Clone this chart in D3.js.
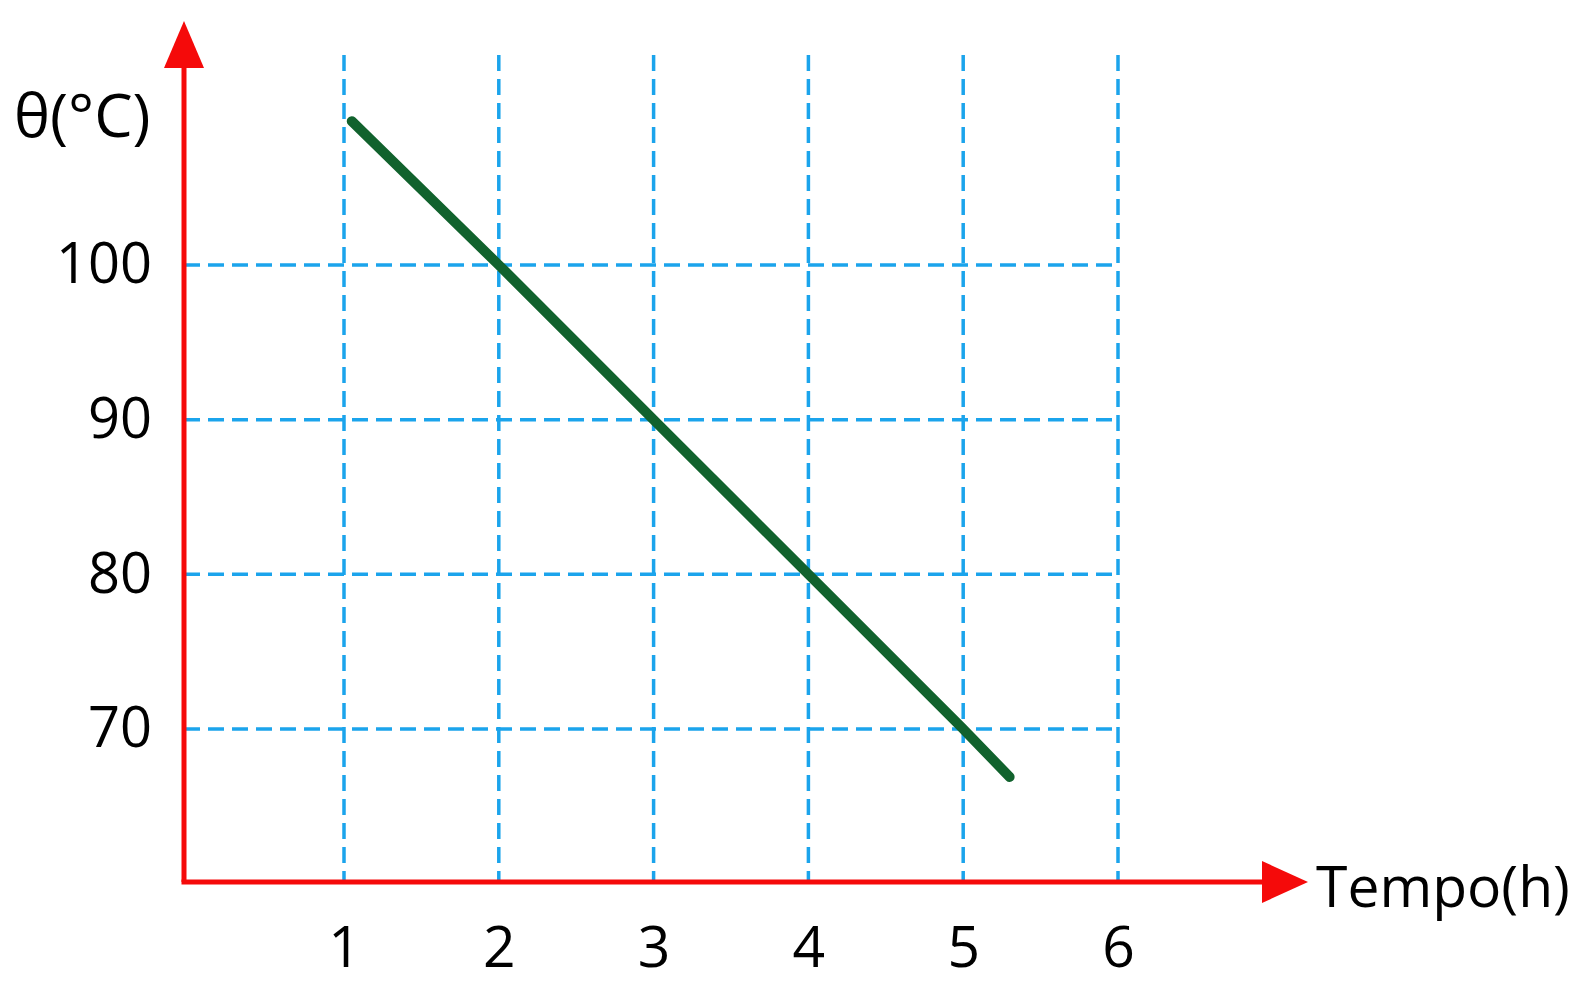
<!DOCTYPE html>
<html>
<head>
<meta charset="utf-8">
<script src="https://cdn.jsdelivr.net/npm/d3@7"></script>
<style>
  body { margin: 0; background: #fff; }
  svg { display: block; }
</style>
</head>
<body>
<div id="chart"></div>
<script>
// values
const timeTicks = [1, 2, 3, 4, 5, 6];
const tempTicks = [70, 80, 90, 100];
const time = [1.05, 2, 3, 4, 5, 5.3];
const temp = [109.3, 100, 90, 80, 70, 66.9];

const width = 1586, height = 992;
const axisX = 184, axisY = 882;

const svg = d3.select("#chart")
              .append("svg")
              .attr("width", width)
              .attr("height", height);

const x = d3.scaleLinear().domain([1, 6]).range([344, 1118]);
const y = d3.scaleLinear().domain([70, 100]).range([729, 265]);

const font = "'Open Sans', 'Noto Sans', sans-serif";

// dashed grid
svg.append("g")
   .selectAll("line")
   .data(timeTicks)
   .enter().append("line")
   .attr("x1", d => x(d)).attr("x2", d => x(d))
   .attr("y1", 55).attr("y2", axisY)
   .attr("stroke", "#1ba4ec")
   .attr("stroke-width", 3.5)
   .attr("stroke-dasharray", "16,8");

svg.append("g")
   .selectAll("line")
   .data(tempTicks)
   .enter().append("line")
   .attr("x1", axisX).attr("x2", x(6))
   .attr("y1", d => y(d)).attr("y2", d => y(d))
   .attr("stroke", "#1ba4ec")
   .attr("stroke-width", 3.5)
   .attr("stroke-dasharray", "16,8");

// the cooling line
const line = d3.line()
               .x((d, i) => x(time[i]))
               .y(d => y(d));

svg.append("path")
   .datum(temp)
   .attr("fill", "none")
   .attr("stroke", "#11622d")
   .attr("stroke-width", 10)
   .attr("stroke-linecap", "round")
   .attr("stroke-linejoin", "round")
   .attr("d", line);

// red axes with arrows
svg.append("line")
   .attr("x1", axisX).attr("y1", axisY)
   .attr("x2", axisX).attr("y2", 60)
   .attr("stroke", "#f50a0a")
   .attr("stroke-width", 5);

svg.append("line")
   .attr("x1", axisX - 2.5).attr("y1", axisY)
   .attr("x2", 1270).attr("y2", axisY)
   .attr("stroke", "#f50a0a")
   .attr("stroke-width", 5);

svg.append("path")
   .attr("d", `M${axisX},21 L${axisX - 20},68 L${axisX + 20},68 Z`)
   .attr("fill", "#f50a0a");

svg.append("path")
   .attr("d", `M1308,${axisY} L1262,${axisY - 21} L1262,${axisY + 21} Z`)
   .attr("fill", "#f50a0a");

// tick labels
const xAxis = svg.append("g")
   .attr("transform", `translate(0,${axisY})`)
   .call(d3.axisBottom(x).tickValues(timeTicks).tickSize(0).tickPadding(45).tickFormat(d3.format("d")));
xAxis.select(".domain").remove();
xAxis.selectAll("text")
     .attr("fill", "#000")
     .style("font-family", font)
     .style("font-size", "57px");

const yAxis = svg.append("g")
   .attr("transform", `translate(${axisX},0)`)
   .call(d3.axisLeft(y).tickValues(tempTicks).tickSize(0).tickPadding(32).tickFormat(d3.format("d")));
yAxis.select(".domain").remove();
yAxis.selectAll("text")
     .attr("fill", "#000")
     .style("font-family", font)
     .style("font-size", "56px");

// axis titles
svg.append("text")
   .attr("x", 14)
   .attr("y", 137)
   .attr("fill", "#000")
   .style("font-family", font)
   .style("font-size", "61px")
   .text("θ(°C)");

svg.append("text")
   .attr("x", 1316)
   .attr("y", 907)
   .attr("fill", "#000")
   .style("font-family", font)
   .style("font-size", "57px")
   .text("Tempo(h)");
</script>
</body>
</html>
